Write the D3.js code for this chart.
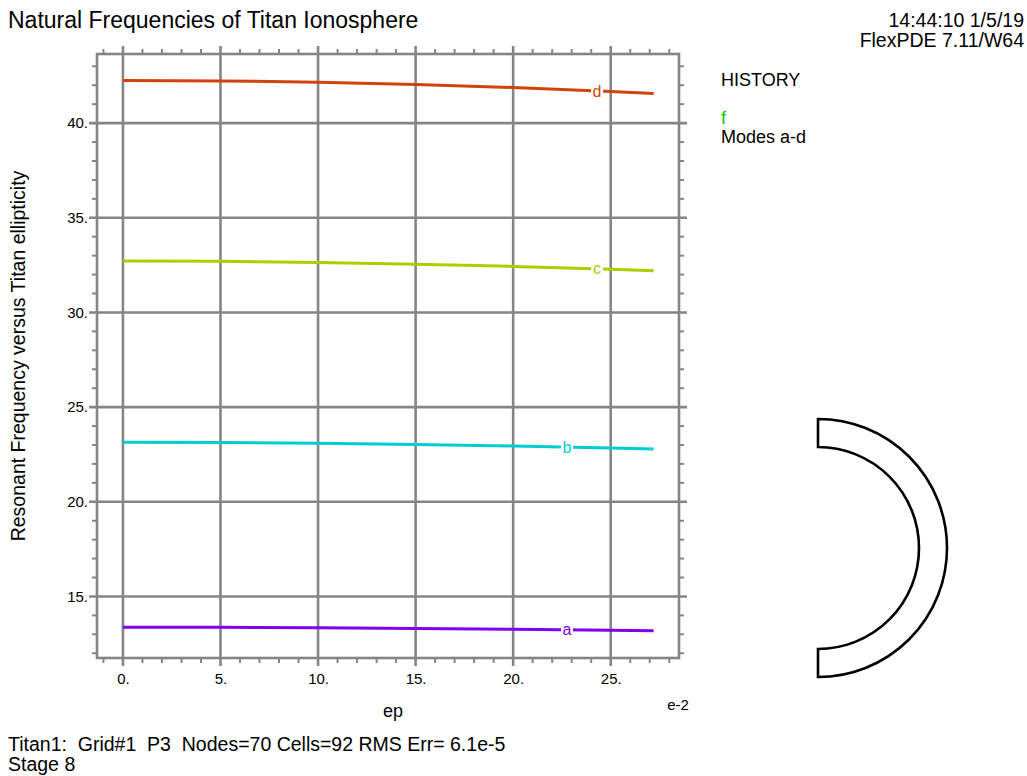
<!DOCTYPE html>
<meta charset="utf-8">
<script src="https://d3js.org/d3.v7.min.js"></script>
<style>
  body { margin: 0; background: #fff; }
  text { font-family: Arial, "Liberation Sans", sans-serif; fill: #000; }
</style>
<div id="chart"></div>
<script>
// values
var epVals = [0, 5, 10, 15, 20, 25, 27.2];
var modeA = [13.38, 13.37, 13.35, 13.31, 13.27, 13.21, 13.19];
var modeB = [23.15, 23.13, 23.09, 23.03, 22.95, 22.84, 22.79];
var modeC = [32.72, 32.70, 32.64, 32.55, 32.43, 32.28, 32.20];
var modeD = [42.25, 42.23, 42.16, 42.04, 41.88, 41.67, 41.57];
var modeNames = ["a", "b", "c", "d"];
var modeLabelAt = [22.76, 22.76, 24.3, 24.3];
var modeColors = ["#8000f0", "#00cdd2", "#a8d000", "#d2420a"];

var xTicks = [0, 5, 10, 15, 20, 25];
var yTicks = [15, 20, 25, 30, 35, 40];

var W = 1027, H = 776;
var frame = {left: 97, right: 679, top: 54, bottom: 658};
var gray = "#858585";

var svg = d3.select("#chart").append("svg")
  .attr("width", W)
  .attr("height", H);

var x = d3.scaleLinear().domain([-1.33, 28.5]).range([frame.left, frame.right]);
var y = d3.scaleLinear().domain([11.75, 43.65]).range([frame.bottom, frame.top]);

var xMinor = d3.range(-1, 29).filter(function(v) { return v % 5 != 0; });
var yMinor = d3.range(12, 44).filter(function(v) { return v % 5 != 0; });

//-------- grid lines (majors run through and poke out of the frame) --------
var grid = svg.append("g")
  .attr("stroke", gray)
  .attr("stroke-width", 2.6);

xTicks.forEach(function(t) {
  grid.append("line")
    .attr("x1", x(t)).attr("x2", x(t))
    .attr("y1", frame.top - 8).attr("y2", frame.bottom + 8);
});
yTicks.forEach(function(t) {
  grid.append("line")
    .attr("x1", frame.left - 8).attr("x2", frame.right + 8)
    .attr("y1", y(t)).attr("y2", y(t));
});

// frame
svg.append("rect")
  .attr("x", frame.left).attr("y", frame.top)
  .attr("width", frame.right - frame.left)
  .attr("height", frame.bottom - frame.top)
  .attr("fill", "none")
  .attr("stroke", gray)
  .attr("stroke-width", 2.6);

// minor ticks on all four sides, pointing out
var minor = svg.append("g")
  .attr("stroke", gray)
  .attr("stroke-width", 2);

xMinor.forEach(function(t) {
  minor.append("line").attr("x1", x(t)).attr("x2", x(t))
    .attr("y1", frame.bottom).attr("y2", frame.bottom + 5);
  minor.append("line").attr("x1", x(t)).attr("x2", x(t))
    .attr("y1", frame.top).attr("y2", frame.top - 5);
});
yMinor.forEach(function(t) {
  minor.append("line").attr("y1", y(t)).attr("y2", y(t))
    .attr("x1", frame.left).attr("x2", frame.left - 5);
  minor.append("line").attr("y1", y(t)).attr("y2", y(t))
    .attr("x1", frame.right).attr("x2", frame.right + 5);
});

//-------- tick labels through d3 axes --------
var xAxis = svg.append("g")
  .attr("transform", "translate(0," + frame.bottom + ")")
  .call(d3.axisBottom(x).tickValues(xTicks).tickSize(0).tickPadding(15)
    .tickFormat(function(d) { return d + "."; }));

var yAxis = svg.append("g")
  .attr("transform", "translate(" + frame.left + ",0)")
  .call(d3.axisLeft(y).tickValues(yTicks).tickSize(0).tickPadding(9)
    .tickFormat(function(d) { return d + "."; }));

[xAxis, yAxis].forEach(function(a) {
  a.select(".domain").remove();
  a.selectAll("text")
    .style("font-family", "Arial, 'Liberation Sans', sans-serif")
    .style("font-size", "15px")
    .attr("fill", "#000");
});

//-------- mode curves --------
var series = [modeA, modeB, modeC, modeD];
var line = d3.line()
  .x(function(d, i) { return x(epVals[i]); })
  .y(function(d) { return y(d); });

series.forEach(function(s, k) {
  svg.append("path")
    .datum(s)
    .attr("d", line)
    .attr("fill", "none")
    .attr("stroke", modeColors[k])
    .attr("stroke-width", 3);

  // label sits on the curve with a white break behind it
  var lx = modeLabelAt[k];
  var ly = d3.scaleLinear().domain(epVals).range(s)(lx);
  svg.append("rect")
    .attr("x", x(lx) - 6).attr("y", y(ly) - 7)
    .attr("width", 12).attr("height", 14)
    .attr("fill", "#fff");
  svg.append("text")
    .attr("x", x(lx)).attr("y", y(ly))
    .attr("dy", "0.35em")
    .attr("text-anchor", "middle")
    .style("font-size", "16px")
    .style("fill", modeColors[k])
    .text(modeNames[k]);
});

//-------- text around the plot --------
svg.append("text")
  .attr("x", 8).attr("y", 28)
  .style("font-size", "23px")
  .text("Natural Frequencies of Titan Ionosphere");

svg.append("text")
  .attr("x", 1024).attr("y", 27)
  .attr("text-anchor", "end")
  .style("font-size", "19.5px")
  .text("14:44:10 1/5/19");
svg.append("text")
  .attr("x", 1024).attr("y", 47)
  .attr("text-anchor", "end")
  .style("font-size", "19.5px")
  .text("FlexPDE 7.11/W64");

svg.append("text")
  .attr("x", 721).attr("y", 86)
  .style("font-size", "18px")
  .text("HISTORY");
svg.append("text")
  .attr("x", 721).attr("y", 124)
  .style("font-size", "18px")
  .style("fill", "#00c800")
  .text("f");
svg.append("text")
  .attr("x", 721).attr("y", 143)
  .style("font-size", "18px")
  .text("Modes a-d");

svg.append("text")
  .attr("transform", "translate(25," + ((frame.top + frame.bottom) / 2) + ") rotate(-90)")
  .attr("text-anchor", "middle")
  .style("font-size", "19.5px")
  .text("Resonant Frequency versus Titan ellipticity");

svg.append("text")
  .attr("x", 393).attr("y", 717)
  .attr("text-anchor", "middle")
  .style("font-size", "18px")
  .text("ep");
svg.append("text")
  .attr("x", 678).attr("y", 710)
  .attr("text-anchor", "middle")
  .style("font-size", "15px")
  .text("e-2");

svg.append("text")
  .attr("x", 8).attr("y", 751)
  .style("font-size", "19.5px")
  .style("white-space", "pre")
  .text("Titan1:  Grid#1  P3  Nodes=70 Cells=92 RMS Err= 6.1e-5");
svg.append("text")
  .attr("x", 8).attr("y", 771)
  .style("font-size", "19.5px")
  .text("Stage 8");

//-------- domain sketch: half annulus --------
var ring = d3.arc()
  .innerRadius(101)
  .outerRadius(129)
  .startAngle(0)
  .endAngle(Math.PI);

svg.append("path")
  .attr("transform", "translate(818,548)")
  .attr("d", ring())
  .attr("fill", "#fff")
  .attr("stroke", "#000")
  .attr("stroke-width", 2.6);
</script>
